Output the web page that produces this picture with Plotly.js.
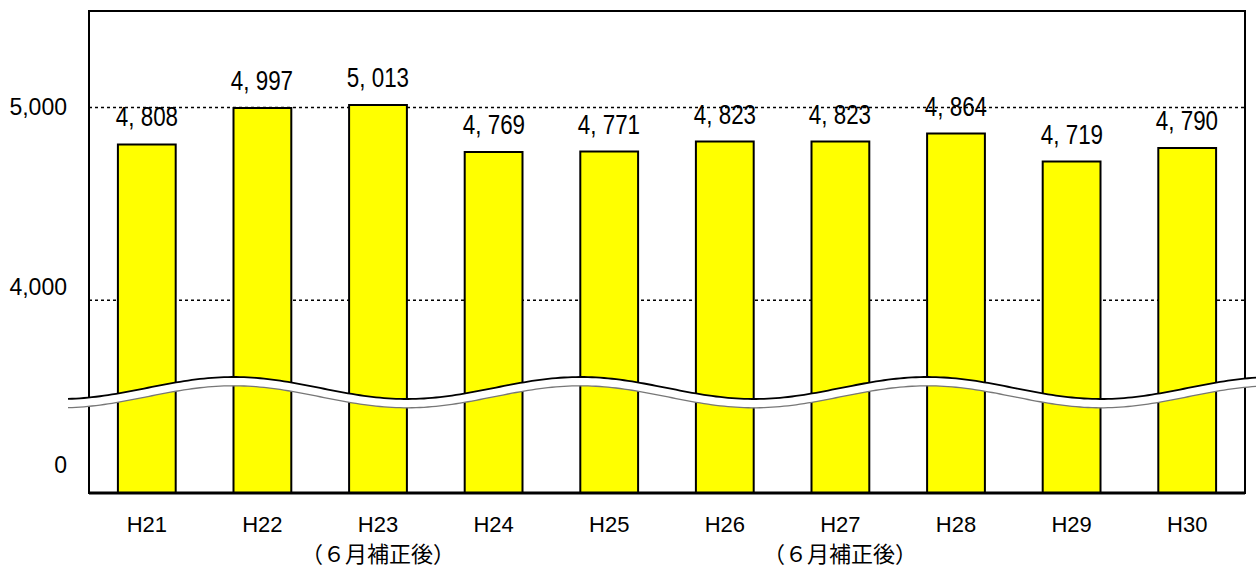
<!DOCTYPE html>
<html>
<head>
<meta charset="utf-8">
<script src="https://cdn.plot.ly/plotly-3.0.1.min.js"></script>
<style>
html,body{margin:0;padding:0;background:#fff;}
#chart{width:1256px;height:567px;}
</style>
</head>
<body>
<div id="chart"></div>
<script>
// ---- data ----
const categories = ['H21','H22','H23','H24','H25','H26','H27','H28','H29','H30'];
const values = [4808, 4997, 5013, 4769, 4771, 4823, 4823, 4864, 4719, 4790];
const noteCategories = ['H23','H27'];
const noteText = '（６月補正後）';
const gridValues = [4000, 5000];
const yTickLabels = ['0', '4,000', '5,000'];
const yTickLabelPos = [3145, 4070, 5000];

// ---- layout constants (pixels) ----
const W = 1256, H = 567;
const L = 89, R = 1245, T = 11, B = 493;
const pw = R - L, ph = B - T;
const px2x = p => (p - L) / pw;
const py2y = p => (B - p) / ph;

function fmt(v){
  return Math.floor(v/1000) + ', ' + String(v % 1000).padStart(3,'0');
}

// break wave decoration path
function wavePath(offset){
  let d = '';
  for (let p = 68; p <= 1256; p += 4){
    const yy = 388 + 11*Math.cos(2*Math.PI*(p-407)/347) + offset;
    d += (p === 68 ? 'M' : 'L') + px2x(p).toFixed(5) + ',' + py2y(yy).toFixed(5);
  }
  return d;
}

const traces = [{
  type: 'bar',
  x: categories,
  y: values,
  marker: {color: '#FFFF00', line: {color: '#000', width: 2}},
  hoverinfo: 'skip'
}];

const annotations = values.map((v,i) => ({
  x: categories[i], y: v, xref: 'x', yref: 'y',
  text: fmt(v), showarrow: false, yanchor: 'bottom', yshift: 10,
  font: {family: '"Liberation Sans", Arial, sans-serif', size: 28, color: '#000'}
}));
noteCategories.forEach(c => annotations.push({
  x: c, xref: 'x', yref: 'paper', y: py2y(552), yanchor: 'middle',
  text: noteText, showarrow: false,
  font: {family: '"Noto Sans CJK JP", sans-serif', size: 22, color: '#000'}
}));

const shapes = gridValues.map(g => ({
  type:'line', xref:'paper', yref:'y', x0:0, x1:1, y0:g, y1:g,
  line:{color:'#000', width:1.5, dash:'dot'}, layer:'below'
})).concat([
  {type:'rect', xref:'paper', yref:'paper', x0:0, x1:1, y0:0, y1:1, line:{color:'#000', width:2}, layer:'above'},
  {type:'path', xref:'paper', yref:'paper', path: wavePath(4.4), line:{color:'#fff', width:8.5}, layer:'above'},
  {type:'path', xref:'paper', yref:'paper', path: wavePath(0), line:{color:'#000', width:1.8}, layer:'above'},
  {type:'path', xref:'paper', yref:'paper', path: wavePath(8.8), line:{color:'#777', width:1.3}, layer:'above'},
  {type:'line', xref:'paper', yref:'paper', x0:0, x1:1, y0:0, y1:0, line:{color:'#000', width:3}, layer:'above'}
]);

const layout = {
  width: W, height: H,
  margin: {l: L, r: W - R, t: T, b: H - B, pad: 0},
  paper_bgcolor: '#fff', plot_bgcolor: '#fff',
  showlegend: false,
  bargap: 0.5,
  font: {family: '"Liberation Sans", Arial, sans-serif', color: '#000'},
  xaxis: {
    type: 'category', range: [-0.5, 9.5],
    showline: false, showgrid: false, zeroline: false, ticks: '',
    tickfont: {size: 22, color: '#000'},
    ticklabelstandoff: 16
  },
  yaxis: {
    range: [3000, 5500],
    tickmode: 'array', tickvals: yTickLabelPos, ticktext: yTickLabels,
    showgrid: false, zeroline: false, showline: false, ticks: '',
    tickfont: {size: 23, color: '#000'},
    ticklabelstandoff: 21
  },
  annotations: annotations,
  shapes: shapes
};

Plotly.newPlot('chart', traces, layout, {staticPlot: true, displayModeBar: false}).then(gd => {
  // condense the value labels horizontally, like the narrow original font
  for (let i = 0; i < values.length; i++) {
    const t = gd.querySelector('.annotation[data-index="' + i + '"] text.annotation-text');
    if (!t) continue;
    const bb = t.getBBox();
    const cx = bb.x + bb.width / 2;
    t.setAttribute('transform', 'translate(' + cx + ',0) scale(0.8,1) translate(' + (-cx) + ',0)');
  }
});
</script>
</body>
</html>
